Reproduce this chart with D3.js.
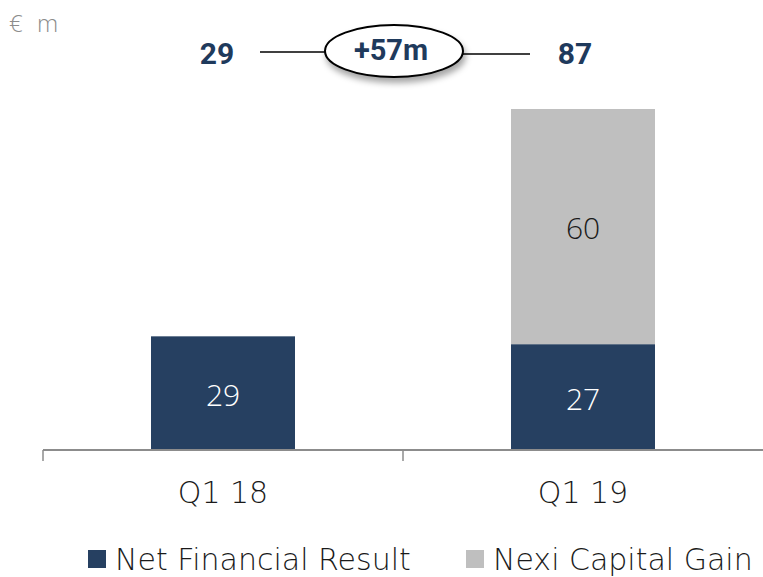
<!DOCTYPE html>
<html>
<head>
<meta charset="utf-8">
<script src="https://cdn.jsdelivr.net/npm/d3@7"></script>
<style>
  body { margin: 0; background: #fff; }
  svg { display: block; }
</style>
</head>
<body>
<div id="canvas"></div>
<script>
"use strict"

// DATA
let categories = ["Q1 18", "Q1 19"];
let series = ["Net Financial Result", "Nexi Capital Gain"];
let netFinancial = [29, 27];
let nexiGain = [0, 60];
let totals = [29, 87];
let deltaLabel = "+57m";
let unitLabel = "€ m";

// drawing config
let svgWidth = 763;
let svgHeight = 577;
let navy = "#264061";
let grey = "#bfbfbf";
let textNavy = "#1f3a5c";
let thinFont = "'Open Sans', sans-serif";
let wideFont = "'DejaVu Sans', sans-serif";

let svg = d3.select("#canvas")
  .append("svg")
  .attr("width", svgWidth)
  .attr("height", svgHeight);

// shadow for the bubble
let defs = svg.append("defs");
defs.append("filter")
  .attr("id", "shadow")
  .attr("x", "-30%").attr("y", "-30%")
  .attr("width", "160%").attr("height", "180%")
  .append("feDropShadow")
  .attr("dx", 2).attr("dy", 5)
  .attr("stdDeviation", 3)
  .attr("flood-color", "#000")
  .attr("flood-opacity", 0.35);

// build stacked table
let table = categories.map(function (c, i) {
  return { cat: c, "Net Financial Result": netFinancial[i], "Nexi Capital Gain": nexiGain[i] };
});
let stacked = d3.stack().keys(series)(table);

// scales
let xScale = d3.scaleBand()
  .domain(categories)
  .range([43, 763])
  .paddingInner(0)
  .paddingOuter(0);

let yScale = d3.scaleLinear()
  .domain([0, d3.max(totals)])
  .range([450, 109]);

let colors = d3.scaleOrdinal().domain(series).range([navy, grey]);
let barWidth = xScale.bandwidth() * 0.4;

// bars
svg.selectAll("g.layer")
  .data(stacked)
  .join("g")
  .attr("class", "layer")
  .attr("fill", function (d) { return colors(d.key) })
  .selectAll("rect")
  .data(function (d) { return d.filter(function (p) { return p[1] - p[0] > 0 }) })
  .join("rect")
  .attr("x", function (d) { return xScale(d.data.cat) + xScale.bandwidth() / 2 - barWidth / 2 })
  .attr("y", function (d) { return yScale(d[1]) })
  .attr("width", barWidth)
  .attr("height", function (d) { return yScale(d[0]) - yScale(d[1]) });

// bar value labels
stacked.forEach(function (layer) {
  layer.forEach(function (p) {
    let v = p[1] - p[0];
    if (v <= 0) return;
    svg.append("text")
      .attr("x", xScale(p.data.cat) + xScale.bandwidth() / 2)
      .attr("y", (yScale(p[0]) + yScale(p[1])) / 2 + 2)
      .attr("dy", "0.36em")
      .attr("text-anchor", "middle")
      .style("font-family", thinFont)
      .style("font-weight", 300)
      .style("font-size", "30px")
      .attr("fill", layer.key == series[0] ? "#ffffff" : "#1a1a1a")
      .text(v);
  });
});

// x axis
let xAxis = d3.axisBottom(xScale).tickSize(0).tickFormat("");
let axisG = svg.append("g")
  .attr("transform", "translate(0,450)")
  .call(xAxis);
axisG.select(".domain").attr("stroke", "#8c8c8c").attr("stroke-width", 2)
  .attr("d", "M43,0H763");
// boundary ticks between bands
let bounds = categories.map(function (c) { return xScale(c) });
svg.selectAll("line.tick")
  .data(bounds)
  .join("line")
  .attr("class", "tick")
  .attr("x1", function (d) { return d }).attr("x2", function (d) { return d })
  .attr("y1", 450).attr("y2", 461)
  .attr("stroke", "#8c8c8c")
  .attr("stroke-width", 1.5);

// category labels
svg.selectAll("text.cat")
  .data(categories)
  .join("text")
  .attr("class", "cat")
  .attr("x", function (d) { return xScale(d) + xScale.bandwidth() / 2 })
  .attr("y", 503)
  .attr("text-anchor", "middle")
  .style("font-family", wideFont)
  .style("font-weight", 200)
  .style("font-size", "30px")
  .attr("fill", "#1a1a1a")
  .text(function (d) { return d });

// unit label
svg.append("text")
  .attr("x", 9)
  .attr("y", 32)
  .style("font-family", thinFont)
  .style("font-weight", 300)
  .style("font-size", "24px")
  .style("word-spacing", "8px")
  .attr("fill", "#8c8c8c")
  .text(unitLabel);

// totals on top + delta bubble
let topY = 64;
svg.selectAll("text.total")
  .data(totals)
  .join("text")
  .attr("class", "total")
  .attr("x", function (d, i) { return i == 0 ? 217 : 575 })
  .attr("y", topY)
  .attr("text-anchor", "middle")
  .style("font-family", "Roboto, sans-serif")
  .style("font-weight", 700)
  .style("font-size", "30px")
  .attr("fill", textNavy)
  .text(function (d) { return d });

svg.append("line")
  .attr("x1", 260).attr("x2", 325)
  .attr("y1", 52).attr("y2", 52)
  .attr("stroke", "#000").attr("stroke-width", 1.5);
svg.append("line")
  .attr("x1", 463).attr("x2", 530)
  .attr("y1", 54).attr("y2", 54)
  .attr("stroke", "#000").attr("stroke-width", 1.5);

svg.append("ellipse")
  .attr("cx", 394).attr("cy", 51)
  .attr("rx", 69).attr("ry", 26)
  .attr("fill", "#fff")
  .attr("stroke", "#000")
  .attr("stroke-width", 2)
  .attr("filter", "url(#shadow)");

svg.append("text")
  .attr("x", 391)
  .attr("y", 60)
  .attr("text-anchor", "middle")
  .style("font-family", "Roboto, sans-serif")
  .style("font-weight", 700)
  .style("font-size", "29px")
  .attr("fill", textNavy)
  .text(deltaLabel);

// legend
let legendX = [88, 466];
series.forEach(function (s, i) {
  svg.append("rect")
    .attr("x", legendX[i])
    .attr("y", 550)
    .attr("width", 18)
    .attr("height", 18)
    .attr("fill", colors(s));
  svg.append("text")
    .attr("x", legendX[i] + 27)
    .attr("y", 570)
    .style("font-family", wideFont)
    .style("font-weight", 200)
    .style("font-size", "30px")
    .attr("fill", "#1a1a1a")
    .text(s);
});
</script>
</body>
</html>
